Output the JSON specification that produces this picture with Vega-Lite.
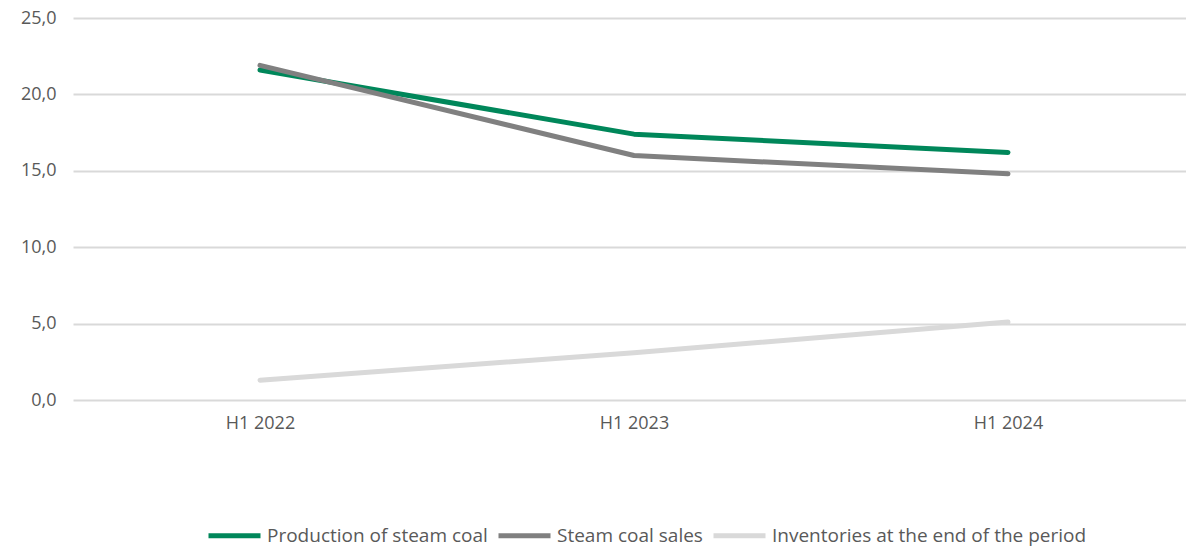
{
  "$schema": "https://vega.github.io/schema/vega-lite/v6.json",
  "autosize": "none",
  "width": 1112,
  "height": 382,
  "padding": {"left": 74, "top": 18, "right": 0, "bottom": 147},
  "background": "white",
  "data": {"values": [
    {"period": "H1 2022", "series": "Production of steam coal", "value": 21.6},
    {"period": "H1 2023", "series": "Production of steam coal", "value": 17.4},
    {"period": "H1 2024", "series": "Production of steam coal", "value": 16.2},
    {"period": "H1 2022", "series": "Steam coal sales", "value": 21.9},
    {"period": "H1 2023", "series": "Steam coal sales", "value": 16.0},
    {"period": "H1 2024", "series": "Steam coal sales", "value": 14.8},
    {"period": "H1 2022", "series": "Inventories at the end of the period", "value": 1.3},
    {"period": "H1 2023", "series": "Inventories at the end of the period", "value": 3.1},
    {"period": "H1 2024", "series": "Inventories at the end of the period", "value": 5.1}
  ]},
  "mark": {"type": "line", "strokeWidth": 5, "strokeCap": "round", "strokeJoin": "round", "clip": false},
  "encoding": {
    "x": {
      "field": "period", "type": "ordinal", "title": null,
      "scale": {"type": "point", "padding": 0.5, "range": [-1, 1121]},
      "axis": {"domain": false, "ticks": false, "grid": false, "labelAngle": 0, "labelPadding": 14, "labelFontSize": 18, "labelColor": "#595959", "labelFont": "Open Sans"}
    },
    "y": {
      "field": "value", "type": "quantitative", "title": null,
      "scale": {"domain": [0, 25]},
      "axis": {"values": [0, 5, 10, 15, 20, 25], "domain": false, "ticks": false, "gridColor": "#d9d9d9", "gridWidth": 2, "labelPadding": 18, "labelFontSize": 18, "labelColor": "#595959", "labelFont": "Open Sans", "labelExpr": "replace(format(datum.value, '.1f'), '.', ',')"}
    },
    "color": {
      "field": "series", "type": "nominal", "title": null,
      "scale": {"domain": ["Production of steam coal", "Steam coal sales", "Inventories at the end of the period"], "range": ["#00875a", "#808080", "#d9d9d9"]},
      "legend": {"orient": "none", "direction": "horizontal", "legendX": 132, "legendY": 489, "symbolType": "stroke", "symbolSize": 2704, "symbolStrokeWidth": 5, "labelFontSize": 19, "labelColor": "#595959", "labelFont": "Open Sans", "labelOffset": 4, "columnPadding": 0, "labelLimit": 400}
    }
  },
  "config": {"view": {"stroke": null}}
}
